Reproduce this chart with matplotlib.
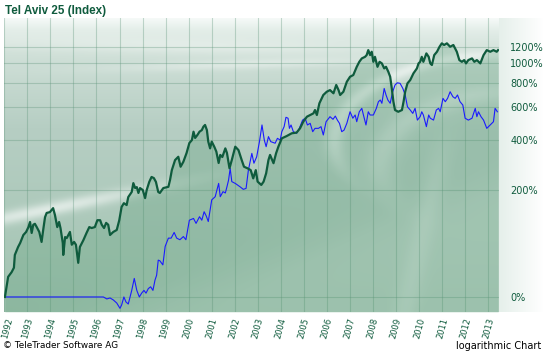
import numpy as np
import matplotlib.pyplot as plt
import matplotlib.transforms as mtransforms

# Tel Aviv 25, % change since start (decimal years)
ta25_t = [1992.03, 1992.10, 1992.17, 1992.32, 1992.42, 1992.46, 1992.60, 1992.69, 1992.83, 1992.95,
          1993.05, 1993.12, 1993.19, 1993.26, 1993.33, 1993.41, 1993.52, 1993.62, 1993.69, 1993.77,
          1993.84, 1993.98, 1994.12, 1994.20, 1994.30, 1994.38, 1994.44, 1994.54, 1994.56, 1994.64,
          1994.71, 1994.78, 1994.85, 1994.93, 1995.03, 1995.11, 1995.21, 1995.28, 1995.43, 1995.57,
          1995.69, 1995.79, 1995.93, 1996.04, 1996.16, 1996.23, 1996.33, 1996.42, 1996.51, 1996.59,
          1996.73, 1996.88, 1996.99, 1997.09, 1997.19, 1997.31, 1997.38, 1997.53, 1997.60, 1997.68,
          1997.75, 1997.82, 1997.89, 1998.01, 1998.11, 1998.18, 1998.29, 1998.39, 1998.49, 1998.58,
          1998.68, 1998.75, 1998.90, 1999.12, 1999.19, 1999.27, 1999.41, 1999.55, 1999.65, 1999.77,
          1999.91, 2000.03, 2000.14, 2000.21, 2000.28, 2000.38, 2000.47, 2000.57, 2000.64, 2000.71,
          2000.79, 2000.85, 2000.93, 2001.00, 2001.11, 2001.20, 2001.30, 2001.37, 2001.46, 2001.59,
          2001.66, 2001.77, 2001.87, 2002.02, 2002.16, 2002.30, 2002.40, 2002.55, 2002.69, 2002.80,
          2002.91, 2002.99, 2003.15, 2003.25, 2003.36, 2003.46, 2003.53, 2003.68, 2003.79, 2003.89,
          2004.04, 2004.25, 2004.47, 2004.68, 2004.83, 2004.97, 2005.13, 2005.27, 2005.41, 2005.48,
          2005.56, 2005.67, 2005.84, 2005.99, 2006.13, 2006.28, 2006.40, 2006.50, 2006.57, 2006.71,
          2006.86, 2007.00, 2007.14, 2007.29, 2007.40, 2007.51, 2007.65, 2007.72, 2007.79, 2007.87,
          2007.94, 2008.01, 2008.08, 2008.19, 2008.28, 2008.38, 2008.48, 2008.56, 2008.66, 2008.74,
          2008.81, 2008.88, 2008.95, 2009.09, 2009.25, 2009.32, 2009.39, 2009.49, 2009.61, 2009.75,
          2009.90, 2009.97, 2010.04, 2010.11, 2010.18, 2010.31, 2010.41, 2010.48, 2010.55, 2010.65,
          2010.77, 2010.88, 2010.98, 2011.08, 2011.20, 2011.34, 2011.48, 2011.63, 2011.74, 2011.85,
          2011.95, 2012.03, 2012.13, 2012.29, 2012.39, 2012.50, 2012.65, 2012.79, 2012.93, 2013.08,
          2013.22, 2013.36, 2013.42]
ta25_pct = [0, 11, 23, 29, 35, 54, 67, 74, 89, 95,
            105, 116, 93, 110, 112, 105, 95, 76, 99, 127,
            137, 139, 149, 132, 105, 116, 103, 74, 54, 85,
            83, 89, 95, 71, 76, 71, 42, 67, 79, 93,
            105, 103, 105, 120, 120, 110, 103, 114, 110, 89,
            95, 99, 120, 152, 162, 157, 179, 194, 222, 206,
            209, 191, 206, 200, 176, 200, 226, 243, 239, 226,
            194, 191, 206, 210, 232, 268, 308, 322, 281, 301,
            339, 386, 401, 446, 412, 428, 446, 455, 475, 485,
            455, 393, 360, 393, 368, 345, 296, 330, 321, 360,
            339, 275, 308, 368, 352, 308, 281, 275, 268, 238,
            268, 227, 216, 227, 256, 308, 330, 295, 337, 368,
            410, 422, 437, 441, 465, 505, 537, 548, 559, 582,
            548, 631, 696, 723, 737, 710, 782, 737, 696, 723,
            812, 860, 877, 963, 1019, 1059, 1078, 1099, 1162, 1099,
            1141, 1019, 1078, 963, 1019, 1001, 946, 963, 910, 860,
            751, 643, 582, 570, 582, 643, 723, 797, 828, 894,
            946, 1001, 1019, 1078, 1019, 1120, 1078, 1001, 983, 1099,
            1141, 1206, 1253, 1230, 1253, 1206, 1230, 1141, 1039, 1019,
            1039, 1001, 1039, 1059, 1019, 1039, 1001, 1099, 1162, 1141,
            1162, 1141, 1162]

# comparison series (blue), % change since start
cmp_t = [1992.03, 1996.30, 1996.45, 1996.59, 1996.73, 1996.88, 1997.02, 1997.09, 1997.19, 1997.28,
         1997.38, 1997.53, 1997.64, 1997.75, 1997.86, 1997.96, 1998.06, 1998.15, 1998.25, 1998.35,
         1998.45, 1998.54, 1998.61, 1998.68, 1998.75, 1998.88, 1998.98, 1999.12, 1999.24, 1999.37,
         1999.48, 1999.62, 1999.77, 1999.88, 2000.03, 2000.21, 2000.32, 2000.47, 2000.57, 2000.67,
         2000.76, 2000.85, 2001.00, 2001.15, 2001.30, 2001.37, 2001.49, 2001.59, 2001.66, 2001.73,
         2001.80, 2001.87, 2002.02, 2002.23, 2002.37, 2002.49, 2002.59, 2002.74, 2002.83, 2002.95,
         2003.07, 2003.18, 2003.28, 2003.36, 2003.46, 2003.56, 2003.75, 2003.85, 2003.97, 2004.04,
         2004.14, 2004.22, 2004.31, 2004.37, 2004.44, 2004.54, 2004.68, 2004.80, 2004.94, 2005.05,
         2005.15, 2005.27, 2005.38, 2005.48, 2005.63, 2005.74, 2005.84, 2005.96, 2006.13, 2006.26,
         2006.36, 2006.45, 2006.54, 2006.64, 2006.74, 2006.86, 2007.00, 2007.12, 2007.22, 2007.29,
         2007.40, 2007.51, 2007.58, 2007.69, 2007.79, 2007.87, 2008.01, 2008.14, 2008.23, 2008.31,
         2008.38, 2008.48, 2008.56, 2008.64, 2008.74, 2008.85, 2008.95, 2009.05, 2009.17, 2009.29,
         2009.39, 2009.49, 2009.61, 2009.72, 2009.82, 2009.92, 2010.04, 2010.11, 2010.18, 2010.31,
         2010.41, 2010.48, 2010.62, 2010.74, 2010.84, 2010.91, 2011.03, 2011.13, 2011.23, 2011.34,
         2011.46, 2011.56, 2011.66, 2011.77, 2011.89, 2011.99, 2012.13, 2012.29, 2012.43, 2012.50,
         2012.57, 2012.68, 2012.79, 2012.93, 2013.08, 2013.22, 2013.29, 2013.39]
cmp_pct = [0, 0, -2, -1, -3, -6, -11, -8, 0, -5,
           -7, 7, 21, 7, 0, 4, 7, 4, 9, 11,
           7, 19, 25, 46, 45, 39, 68, 83, 83, 94,
           83, 80, 86, 80, 120, 124, 113, 128, 120, 140,
           130, 117, 171, 180, 221, 180, 195, 191, 210, 232,
           275, 227, 221, 210, 202, 205, 268, 337, 295, 322,
           393, 485, 401, 368, 419, 393, 385, 410, 401, 446,
           475, 533, 527, 465, 485, 446, 437, 465, 515, 527,
           485, 495, 446, 465, 465, 475, 428, 505, 537, 520,
           541, 515, 495, 446, 455, 495, 570, 527, 548, 505,
           570, 594, 548, 485, 570, 548, 548, 594, 643, 656,
           631, 751, 696, 656, 631, 723, 782, 802, 797, 751,
           696, 605, 582, 559, 594, 515, 537, 570, 548, 475,
           548, 527, 515, 582, 594, 570, 669, 643, 669, 723,
           682, 669, 696, 643, 618, 527, 515, 527, 594, 537,
           570, 537, 515, 465, 485, 505, 594, 570]

years = list(range(1992, 2014))
pct_ticks = [0, 200, 400, 600, 800, 1000, 1200]

DARK = '#0f5b3d'
W_PX, H_PX = 544, 353

fig = plt.figure(figsize=(W_PX / 100, H_PX / 100), dpi=100)
fig.patch.set_facecolor('white')

# plot area in pixels: x 4..499, y 18..312
ax = fig.add_axes([4 / W_PX, 1 - 312 / H_PX, 495 / W_PX, 294 / H_PX])
ax.set_yscale('log')
ax.set_ylim(0.857, 17.55)
ax.set_xlim(1991.99, 2013.46)

# background: vertical gradient with a few soft light streaks
H, W = 294, 495
rows, cols = np.mgrid[0:H, 0:W].astype(float)
stop_r = [0, 12, 35, 110, 294]
stop_c = np.array([[247, 250, 249], [228, 238, 233], [208, 224, 216],
                   [182, 206, 195], [163, 196, 178]]) / 255.0
img = np.dstack([np.interp(rows, stop_r, stop_c[:, k]) for k in range(3)])


def lighten(mask, a):
    global img
    img = img + (1 - img) * (a * mask)[..., None]


def soft(v, w):
    return 1 / (1 + np.exp(-v / w))


# long streak on the left
lighten(np.exp(-((rows - (200 - 0.2 * cols)) / 7) ** 2) * np.exp(-((cols - 40) / 120) ** 2), 0.6)
# streaks in the upper part
lighten(np.exp(-((rows - (54 - 0.03 * cols)) / 5) ** 2) * np.exp(-((cols - 240) / 130) ** 2), 0.35)
lighten(np.exp(-((rows - (25 + 0.02 * cols)) / 9) ** 2) * np.exp(-((cols - 200) / 200) ** 2), 0.3)
# swoosh arcs on the right
for cx, cy, rx, ry, s, a in [(500, 125, 170, 88, 5, 0.5), (505, 150, 130, 75, 9, 0.3)]:
    rr = np.sqrt(((cols - cx) / rx) ** 2 + ((rows - cy) / ry) ** 2)
    arc = np.exp(-(((rr - 1) * ry) / s) ** 2) * soft(cx - cols, 15) * soft(cy + 20 - rows, 12)
    lighten(arc, a)
# lower part of the swoosh
lighten(np.exp(-((cols - (440 - 0.23 * (rows - 120))) / 12) ** 2) * soft(rows - 130, 15), 0.2)
# lighter lower right corner
lighten(soft((cols - 300) * 0.35 + (rows - 230), 12), 0.22)

ax.imshow(img, extent=[0, 1, 0, 1], transform=ax.transAxes, aspect='auto', zorder=0)

ta25 = 1 + np.array(ta25_pct) / 100.0
cmp = 1 + np.array(cmp_pct) / 100.0

ax.fill_between(ta25_t, ta25, 0.857, color='#3c8c5f', alpha=0.22, lw=0, zorder=2)
ax.grid(True, color='#5f957b', alpha=0.35, lw=0.8, zorder=3)
ax.plot(cmp_t, cmp, color='#1a1aff', lw=0.8, zorder=4)
ax.plot(ta25_t, ta25, color=DARK, lw=1.6, zorder=5, solid_joinstyle='round')

for s in ax.spines.values():
    s.set_visible(False)

ax.set_yticks([1 + p / 100 for p in pct_ticks])
ax.set_yticklabels([f'{p}%' for p in pct_ticks])
ax.yaxis.set_minor_locator(plt.NullLocator())
ax.yaxis.tick_right()
ax.tick_params(axis='y', length=0, pad=8, labelsize=7, labelcolor=DARK)

ax.set_xticks(years)
ax.set_xticklabels([str(y) for y in years])
ax.tick_params(axis='x', length=0, pad=0, labelsize=6, labelcolor=DARK)
for i, lab in enumerate(ax.get_xticklabels()):
    # first label is pushed in a bit so it stays inside the picture
    dx = 0.055 if i == 0 else 0.027
    lab.set_rotation(75)
    lab.set_rotation_mode('anchor')
    lab.set_ha('right')
    lab.set_va('center')
    lab.set_transform(lab.get_transform()
                      + mtransforms.ScaledTranslation(dx, -0.06, fig.dpi_scale_trans))

# soft band to the right of the plot
side = fig.add_axes([499 / W_PX, 1 - 312 / H_PX, 45 / W_PX, 294 / H_PX], zorder=-1)
g = np.linspace(0, 1, 45)
band = np.dstack([np.tile(np.interp(g, [0, 1], [c, 1.0]), (10, 1)) for c in (0.9, 0.94, 0.92)])
side.imshow(band, aspect='auto', extent=[0, 1, 0, 1])
side.axis('off')

fig.text(5 / W_PX, 1 - 11 / H_PX, 'Tel Aviv 25 (Index)', fontsize=8.4, fontweight='bold',
         color=DARK, va='center', family='Liberation Sans')
fig.text(3 / W_PX, 1 - 346 / H_PX, '\u00a9 TeleTrader Software AG', fontsize=6.4,
         color='black', va='center', family='DejaVu Sans')
fig.text(541 / W_PX, 1 - 346 / H_PX, 'logarithmic Chart', fontsize=7,
         color='black', va='center', ha='right', family='DejaVu Sans')

fig.savefig('out.png', dpi=100)
